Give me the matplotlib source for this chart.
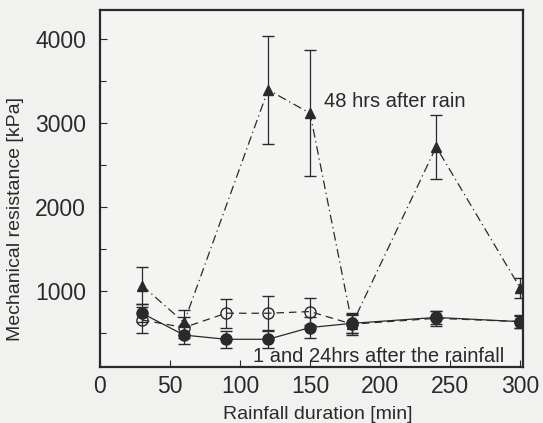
import numpy as np
import matplotlib.pyplot as plt
from matplotlib.ticker import MultipleLocator

plt.rcParams["font.family"] = ["Liberation Sans", "DejaVu Sans"]

# 48 hrs after rain (filled triangles)
x_48 = [30, 60, 120, 150, 180, 240, 300]
y_48 = [1070, 630, 3400, 3120, 610, 2720, 1040]
err_48 = [220, 150, 640, 750, 110, 380, 120]

# 24 hrs after rain (open circles)
x_24 = [30, 60, 90, 120, 150, 180, 240, 300]
y_24 = [660, 570, 740, 740, 760, 610, 680, 640]
err_24 = [150, 120, 170, 200, 160, 130, 90, 80]

# 1 hr after rain (filled circles)
x_1 = [30, 60, 90, 120, 150, 180, 240, 300]
y_1 = [740, 480, 430, 430, 570, 620, 690, 640]
err_1 = [110, 110, 100, 100, 120, 110, 80, 70]

fig = plt.figure(figsize=(5.43, 4.23), dpi=100)
fig.patch.set_facecolor("#f1f1ef")
ax = fig.add_axes([100 / 543, (423 - 367) / 423, 423 / 543, 357 / 423])
ax.set_facecolor("#f4f4f2")

ink = "#2a2a2a"

ax.errorbar(x_48, y_48, yerr=err_48, color=ink, marker="^", markersize=7,
            linestyle=(0, (7, 3, 1, 3)), linewidth=0.9, capsize=4.5, elinewidth=0.9)
ax.errorbar(x_24, y_24, yerr=err_24, color=ink, marker="o", markersize=8,
            markerfacecolor="none", linestyle=(0, (6, 4)), linewidth=0.9,
            capsize=4.5, elinewidth=0.9)
ax.errorbar(x_1, y_1, yerr=err_1, color=ink, marker="o", markersize=8,
            linestyle="-", linewidth=0.9, capsize=4.5, elinewidth=0.9)

ax.text(160, 3190, "48 hrs after rain", fontsize=14.5, color=ink)
ax.text(109, 155, "1 and 24hrs after the rainfall", fontsize=14.5, color=ink)

ax.set_xlim(0, 302)
ax.set_ylim(100, 4350)
ax.xaxis.set_major_locator(MultipleLocator(50))
ax.yaxis.set_major_locator(MultipleLocator(1000))
ax.yaxis.set_minor_locator(MultipleLocator(500))
ax.tick_params(axis="y", pad=10)
ax.tick_params(axis="x", pad=6)
ax.tick_params(direction="in", labelsize=16.5, colors=ink, length=5, width=0.8)
ax.tick_params(which="minor", direction="in", length=4, width=0.8, colors=ink)
for s in ax.spines.values():
    s.set_linewidth(1.6)
    s.set_color(ink)

ax.set_xlabel("Rainfall duration [min]", fontsize=14, color=ink)
ax.set_ylabel("Mechanical resistance [kPa]", fontsize=14, color=ink)
ax.xaxis.set_label_coords(0.515, -0.11)
ax.yaxis.set_label_coords(-0.18, 0.415)

fig.savefig("out.png", dpi=100, facecolor=fig.get_facecolor())
